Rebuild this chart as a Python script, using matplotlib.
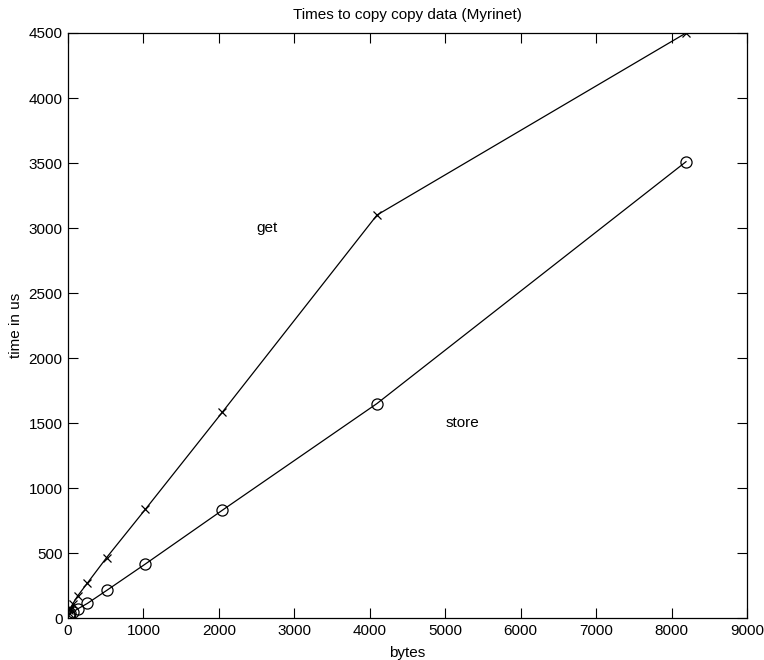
import matplotlib
matplotlib.use('Agg')
import matplotlib.pyplot as plt

plt.rcParams['font.family'] = ['Liberation Sans', 'DejaVu Sans']

# message sizes in bytes
sizes = [8, 16, 32, 64, 128, 256, 512, 1024, 2048, 4096, 8192]
# times in us
get_us = [40, 60, 75, 110, 170, 268, 465, 835, 1585, 3100, 4500]
store_us = [20, 25, 35, 45, 70, 112, 212, 415, 830, 1650, 3510]

fig = plt.figure(figsize=(7.64, 6.6), dpi=100)
ax = fig.add_axes([0.089, 0.0636, 0.8887, 0.8864])

ax.plot(sizes, get_us, color='k', lw=0.9, marker='x', markersize=6, mew=0.9)
ax.plot(sizes, store_us, color='k', lw=0.9, marker='o', markersize=8,
        mfc='none', mew=0.9)

ax.text(2500, 3000, 'get', fontsize=11, va='center')
ax.text(5000, 1500, 'store', fontsize=11, va='center')

ax.set_xlim(0, 9000)
ax.set_ylim(0, 4500)
ax.set_xticks(range(0, 9001, 1000))
ax.set_yticks(range(0, 4501, 500))
ax.tick_params(direction='in', top=True, right=True, length=7, width=0.8,
               labelsize=11, pad=4)
for s in ax.spines.values():
    s.set_linewidth(0.9)

ax.set_title('Times to copy copy data (Myrinet)', fontsize=11, pad=10)
ax.set_xlabel('bytes', fontsize=11, labelpad=6)
ax.set_ylabel('time in us', fontsize=11, labelpad=4)

fig.savefig('out.png', dpi=100)
